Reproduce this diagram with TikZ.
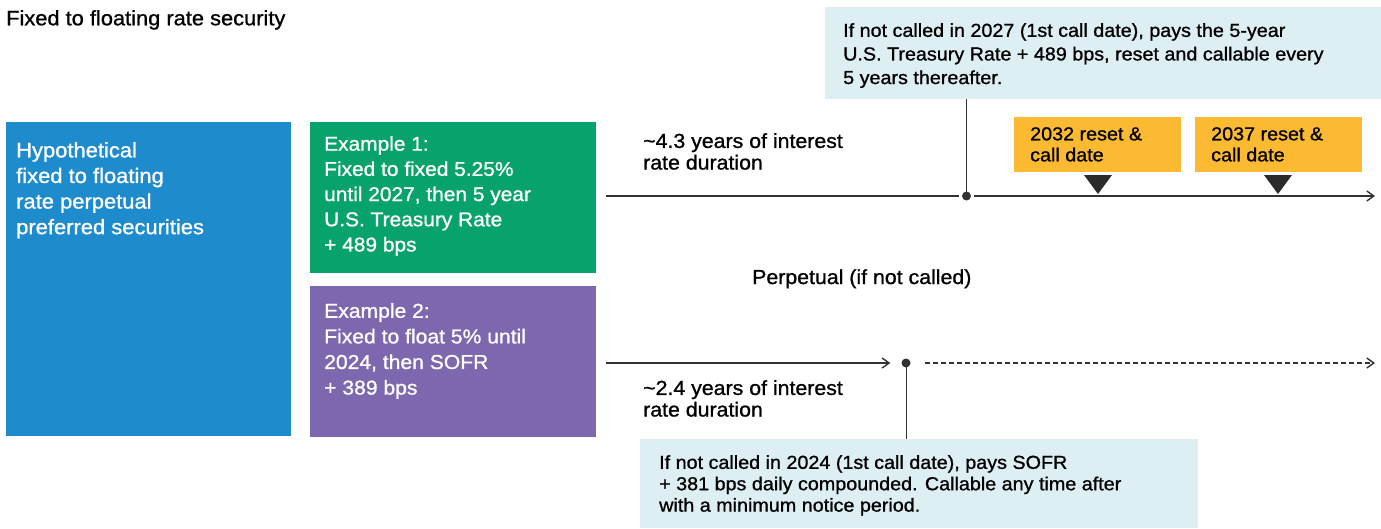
\documentclass[tikz,border=0pt]{standalone}
\usepackage{fontspec}
\setmainfont{Liberation Sans}[FakeStretch=1.05, FakeBold=1.0]
\usetikzlibrary{arrows.meta}
\definecolor{cblue}{HTML}{1E8BCD}
\definecolor{cgreen}{HTML}{07A36B}
\definecolor{cpurple}{HTML}{7D67AE}
\definecolor{clight}{HTML}{DDEFF3}
\definecolor{cyellow}{HTML}{FBBA32}
\definecolor{cdark}{HTML}{2B2B2B}
\definecolor{cline}{HTML}{333333}
\tikzset{
  panel/.style={anchor=north west, inner sep=0pt, outer sep=0pt},
  txt/.style={anchor=north west, inner sep=0pt, align=left},
  bigtxt/.style={txt, text=white, font=\fontsize{20.9}{25.6}\selectfont},
  note/.style={txt, text=black, font=\fontsize{18.8}{21.4}\selectfont},
  durtxt/.style={txt, text=black, font=\fontsize{20.3}{21.6}\selectfont},
  ybox/.style={panel, fill=cyellow, minimum width=167pt, minimum height=55pt},
  ytxt/.style={txt, text=black, font=\fontsize{18.8}{21}\selectfont},
  dot/.style={circle, fill=cline, inner sep=0pt, minimum size=9pt},
  tl/.style={draw=cline, line width=1.9pt},
  tip/.style={-{Straight Barb[length=7pt,width=10pt,line width=1.4pt]}},
  vline/.style={draw=cline, line width=1pt},
}
\begin{document}
\begin{tikzpicture}[x=1pt,y=-1pt]
\useasboundingbox (0,0) rectangle (1381,528);
% title
\node[txt, font=\fontsize{20.8}{24}\selectfont] (title) at (6,10) {Fixed to floating rate security};
% left panels
\node[panel, fill=cblue, minimum width=285pt, minimum height=314pt] (hyp) at (6,122) {};
\node[bigtxt] (hyptxt) at (16,142) {Hypothetical\\fixed to floating\\rate perpetual\\preferred securities};
\node[panel, fill=cgreen, minimum width=286pt, minimum height=151pt] (ex1) at (310,122) {};
\node[bigtxt, font=\fontsize{19.9}{25.2}\selectfont] (ex1txt) at (324,136) {Example 1:\\Fixed to fixed 5.25\%\\until 2027, then 5 year\\U.S. Treasury Rate\\+ 489 bps};
\node[panel, fill=cpurple, minimum width=286pt, minimum height=151pt] (ex2) at (310,286) {};
\node[bigtxt, font=\fontsize{20.1}{25.6}\selectfont] (ex2txt) at (324,303) {Example 2:\\Fixed to float 5\% until\\2024, then SOFR\\+ 389 bps};
% top note box
\node[panel, fill=clight, minimum width=556pt, minimum height=92pt] (topnote) at (825,7) {};
\node[note, font=\fontsize{18.8}{23.6}\selectfont] (topnotetxt) at (843,23) {If not called in 2027 (1st call date), pays the 5-year\\U.S. Treasury Rate + 489 bps, reset and callable every\\5 years thereafter.};
% yellow boxes
\node[ybox] (y1) at (1014,117) {};
\node[ytxt] (y1txt) at (1030,127) {2032 reset \&\\call date};
\node[ybox] (y2) at (1195,117) {};
\node[ytxt] (y2txt) at (1211,127) {2037 reset \&\\call date};
% top timeline
\coordinate (t1s) at (606,196);
\node[dot] (d1) at (966.5,196) {};
\coordinate (t1e) at (1375,196);
\draw[tl] (t1s) -- ([xshift=-3pt]d1.west);
\draw[tl, tip] ([xshift=3pt]d1.east) -- (t1e);
\draw[vline] (d1.center) -- (d1.center |- topnote.south);
\fill[cdark] (1084,175) -- (1112,175) -- (1098,194) -- cycle;
\fill[cdark] (1264,175) -- (1292,175) -- (1278,194) -- cycle;
\node[durtxt] (dur1) at (643,133) {\textasciitilde4.3 years of interest\\rate duration};
\node[durtxt, anchor=base west] (perp) at (752,284) {Perpetual (if not called)};
% bottom timeline
\coordinate (t2s) at (606,363);
\node[dot] (d2) at (906,363) {};
\coordinate (t2e) at (1375,363);
\draw[tl, tip] (t2s) -- ([xshift=-11pt]d2.west);
\draw[tl, tip, dash pattern=on 5pt off 3pt] ([xshift=14pt]d2.east) -- (t2e);
\node[panel, fill=clight, minimum width=558pt, minimum height=89pt] (botnote) at (640,439) {};
\draw[vline] (d2.center) -- (d2.center |- botnote.north);
\node[durtxt] (dur2) at (643,380) {\textasciitilde2.4 years of interest\\rate duration};
\node[note] (botnotetxt) at (659,455) {If not called in 2024 (1st call date), pays SOFR\\+ 381 bps daily compounded. Callable any time after\\with a minimum notice period.};
\end{tikzpicture}
\end{document}
